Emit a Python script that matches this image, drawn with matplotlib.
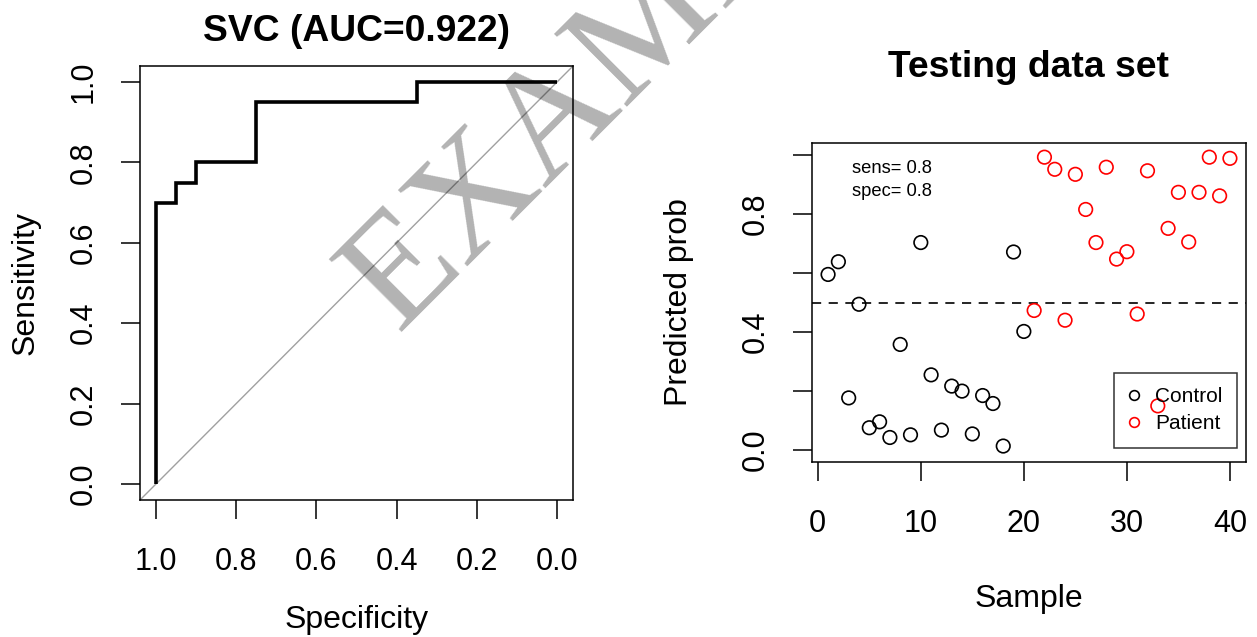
import matplotlib
matplotlib.use("Agg")
import matplotlib.pyplot as plt
from matplotlib.lines import Line2D

plt.rcParams['font.family'] = ['Liberation Sans', 'DejaVu Sans']

# ---------------- data ----------------
roc_specificity = [1.0, 1.0, 0.95, 0.95, 0.90, 0.90, 0.75, 0.75, 0.35, 0.35, 0.0]
roc_sensitivity = [0.0, 0.70, 0.70, 0.75, 0.75, 0.80, 0.80, 0.95, 0.95, 1.0, 1.0]
roc_title = "SVC (AUC=0.922)"
roc_ticks = [0.0, 0.2, 0.4, 0.6, 0.8, 1.0]
roc_ticklabels = ["0.0", "0.2", "0.4", "0.6", "0.8", "1.0"]

control_sample = list(range(1, 21))
control_prob = [0.595, 0.638, 0.177, 0.494, 0.076, 0.096, 0.043, 0.358, 0.052, 0.703,
                0.255, 0.068, 0.217, 0.200, 0.055, 0.185, 0.158, 0.014, 0.671, 0.402]
patient_sample = list(range(21, 41))
patient_prob = [0.473, 0.992, 0.951, 0.440, 0.934, 0.815, 0.703, 0.958, 0.647, 0.672,
                0.461, 0.946, 0.150, 0.751, 0.873, 0.705, 0.873, 0.992, 0.861, 0.988]
threshold = 0.5
sens_text = "sens= 0.8"
spec_text = "spec= 0.8"
test_xticks = [0, 10, 20, 30, 40]
test_yticks = [0.0, 0.2, 0.4, 0.6, 0.8, 1.0]
test_yticklabels = ["0.0", "", "0.4", "", "0.8", ""]
legend_labels = ["Control", "Patient"]
legend_colors = ["black", "red"]

W, H = 1257, 637
fig = plt.figure(figsize=(W / 100, H / 100), dpi=100)

TICK_FS = 22
LAB_FS = 23
TITLE_FS = 26.8

def style_axes(ax):
    for s in ax.spines.values():
        s.set_linewidth(1.1)
    ax.tick_params(direction='out', length=13.5, width=1.1, labelsize=TICK_FS, colors='black')
    ax.tick_params(axis='x', pad=20)
    ax.tick_params(axis='y', pad=16.5, labelrotation=90)
    for lab in ax.get_yticklabels():
        lab.set_va('center')

# ---------------- left: ROC ----------------
ax1 = fig.add_axes([140 / W, 137 / H, 433 / W, 434 / H])
ax1.axline((1, 0), (0, 1), color='#a0a0a0', lw=1.0, zorder=1)
ax1.plot(roc_specificity, roc_sensitivity, color='black', lw=2.6, zorder=2,
         solid_joinstyle='miter', solid_capstyle='butt')
ax1.set_xlim(1.04, -0.04)
ax1.set_ylim(-0.04, 1.04)
ax1.set_xticks(roc_ticks)
ax1.set_xticklabels(roc_ticklabels)
ax1.set_yticks(roc_ticks)
ax1.set_yticklabels(roc_ticklabels)
style_axes(ax1)
ax1.set_xlabel("Specificity", fontsize=LAB_FS, va='center')
ax1.xaxis.set_label_coords(0.5, -0.2765)
ax1.set_ylabel("Sensitivity", fontsize=LAB_FS, va='center')
ax1.yaxis.set_label_coords(-0.2644, 0.5)
ax1.set_title(roc_title, fontsize=TITLE_FS, fontweight='bold', y=1.0576, pad=0)

# ---------------- right: testing set ----------------
ax2 = fig.add_axes([812 / W, 175 / H, 434 / W, 319 / H])
ax2.axhline(threshold, color='black', lw=1.2, linestyle=(0, (5.5, 4.5)), zorder=1)
ax2.scatter(control_sample, control_prob, s=95, facecolors='none',
            edgecolors=legend_colors[0], linewidths=1.2, zorder=3)
ax2.scatter(patient_sample, patient_prob, s=95, facecolors='none',
            edgecolors=legend_colors[1], linewidths=1.2, zorder=3)
ax2.set_xlim(-0.56, 41.56)
ax2.set_ylim(-0.04, 1.04)
ax2.set_xticks(test_xticks)
ax2.set_yticks(test_yticks)
ax2.set_yticklabels(test_yticklabels)
style_axes(ax2)
ax2.set_xlabel("Sample", fontsize=LAB_FS, va='center')
ax2.xaxis.set_label_coords(0.5, -0.4295)
ax2.set_ylabel("Predicted prob", fontsize=LAB_FS, va='center')
ax2.yaxis.set_label_coords(-0.3065, 0.5)
ax2.set_title("Testing data set", fontsize=TITLE_FS, fontweight='bold', y=1.2069, pad=0)

ax2.text(3.36, 0.939, sens_text, fontsize=13.2, ha='left', va='baseline')
ax2.text(3.36, 0.862, spec_text, fontsize=13.2, ha='left', va='baseline')

handles = [Line2D([], [], linestyle='none', marker='o', markersize=7, markerfacecolor='none',
                  markeredgecolor=c, markeredgewidth=1.2) for c in legend_colors]
leg = ax2.legend(handles, legend_labels, loc='lower right',
                 bbox_to_anchor=((1237 - 812) / 434, (462 - 448) / 319),
                 borderaxespad=0, fontsize=15, handlelength=0.52, handletextpad=0.75,
                 borderpad=0.7, labelspacing=0.4, fancybox=False, frameon=True)
leg.get_frame().set_edgecolor('black')
leg.get_frame().set_linewidth(1.1)
leg.get_frame().set_facecolor('none')

# ---------------- watermark ----------------
fig.text(397 / W, 1 - 332 / H, "EXAMPLE", family='Liberation Serif', fontsize=112,
         rotation=45, rotation_mode='anchor', ha='left', va='baseline',
         color='black', alpha=0.3, zorder=10)

fig.savefig("out.png", dpi=100)
